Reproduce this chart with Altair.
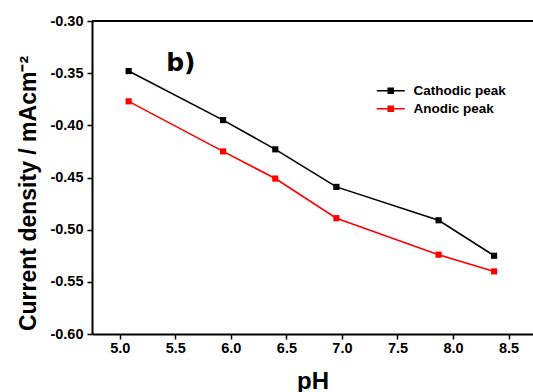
import altair as alt
import pandas as pd

# ---- data ----
ph = [5.08, 5.93, 6.40, 6.95, 7.87, 8.37]
cathodic = [-0.348, -0.395, -0.423, -0.459, -0.491, -0.525]
anodic = [-0.377, -0.425, -0.451, -0.489, -0.524, -0.540]
series_names = ["Cathodic peak", "Anodic peak"]
series_colors = ["#000000", "#ff0000"]

x_ticks = [5.0, 5.25, 5.5, 5.75, 6.0, 6.25, 6.5, 6.75, 7.0, 7.25, 7.5, 7.75, 8.0, 8.25, 8.5]
y_ticks = [-0.60, -0.575, -0.55, -0.525, -0.50, -0.475, -0.45, -0.425, -0.40,
           -0.375, -0.35, -0.325, -0.30]
x_domain = [4.75, 8.72]
y_domain = [-0.60, -0.30]
panel_label = "b)"

rows = []
for name, vals in zip(series_names, [cathodic, anodic]):
    for p, v in zip(ph, vals):
        rows.append({"pH": p, "value": v, "series": name})
df = pd.DataFrame(rows)

FONT = "Liberation Sans"

xaxis = alt.Axis(
    values=x_ticks,
    labelExpr="round(datum.value*4)%2==0 ? format(datum.value,'.1f') : ''",
    tickSize={"condition": {"test": "round(datum.value*4)%2==0", "value": 5}, "value": 3},
    tickWidth=1.5, tickColor="black", domainWidth=2, domainColor="black",
    grid=False, labelFont=FONT, labelFontWeight="bold", labelFontSize=14.5,
    labelColor="black", labelPadding=2, labelFlush=False, labelOverlap=False,
    title="pH", titleFont=FONT, titleFontWeight="bold", titleFontSize=24,
    titleColor="black", titleY=54, titleBaseline="alphabetic",
)
yaxis = alt.Axis(
    values=y_ticks,
    labelExpr="round(datum.value*40)%2==0 ? replace(format(datum.value,'.2f'),'\u2212','-') : ''",
    tickSize={"condition": {"test": "round(datum.value*40)%2==0", "value": 5}, "value": 3},
    tickWidth=1.5, tickColor="black", domainWidth=2, domainColor="black",
    grid=False, labelFont=FONT, labelFontWeight="bold", labelFontSize=14.5,
    labelColor="black", labelPadding=4, labelFlush=False, labelOverlap=False,
    title="Current density / mAcm\u207b\u00b2", titleFont=FONT, titleFontWeight="bold",
    titleFontSize=23, titleColor="black", titleX=-57, titleY=172,
    titleAngle=270, titleAlign="center", titleBaseline="alphabetic",
)

legend = alt.Legend(
    title=None, orient="none", legendX=292, legendY=63,
    symbolType="M-2.8,0H2.8M-0.5,-0.5H0.5V0.5H-0.5Z", symbolSize=100,
    symbolStrokeWidth=1.6, labelFont=FONT, labelFontWeight="bold",
    labelFontSize=13.5, labelColor="black", labelOffset=16, rowPadding=3,
    padding=0,
)

color = alt.Color("series:N",
                  scale=alt.Scale(domain=series_names, range=series_colors),
                  legend=legend)

x = alt.X("pH:Q", scale=alt.Scale(domain=x_domain, nice=False, zero=False), axis=xaxis)
y = alt.Y("value:Q", scale=alt.Scale(domain=y_domain, nice=False, zero=False), axis=yaxis)

base = alt.Chart(df).encode(x=x, y=y, color=color)
lines = base.mark_line(strokeWidth=1.6)
points = base.mark_point(shape="square", filled=True, size=38, opacity=1)

top = alt.Chart(pd.DataFrame({"top": [y_domain[1]]})).mark_rule(
    color="black", strokeWidth=2).encode(y=alt.Y("top:Q"))

label = alt.Chart(pd.DataFrame({"t": [panel_label]})).mark_text(
    font="DejaVu Sans", fontWeight="bold", fontSize=25, color="black",
    align="center", baseline="alphabetic").encode(
    x=alt.datum(5.55), y=alt.datum(-0.348), text="t:N")

chart = alt.layer(lines, points, top, label).properties(
    width=441, height=313,
    autosize=alt.AutoSizeParams(type="none"),
    padding={"left": 92, "top": 21, "right": 0, "bottom": 58},
    background="white",
).configure_view(stroke=None)

chart.save("out.html", embed_options={"renderer": "svg", "actions": False})
